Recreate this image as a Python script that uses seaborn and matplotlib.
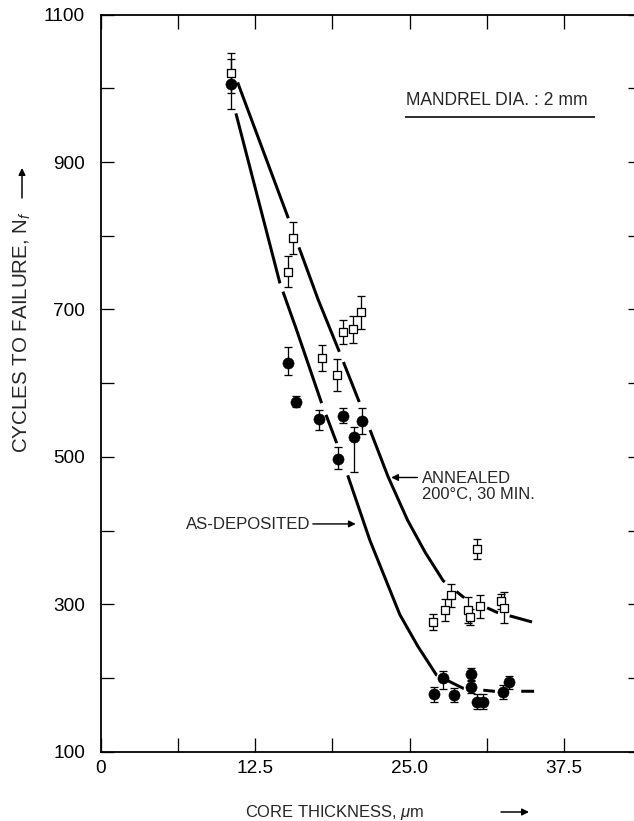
import numpy as np
import pandas as pd
import matplotlib
matplotlib.use("Agg")
import matplotlib.pyplot as plt
import seaborn as sns

# Annealed specimens (open squares): core thickness (um), cycles to failure, +/- error
ann_x = [10.50, 15.12, 15.57, 17.87, 19.13, 19.57, 20.43, 21.03,
         26.91, 27.85, 28.34, 29.74, 29.88, 30.50, 30.69, 32.39, 32.66]
ann_y = [1021, 751, 797, 634, 611, 669, 673, 696,
         276, 292, 312, 292, 283, 375, 297, 304, 295]
ann_err = [27, 21, 22, 18, 22, 16, 18, 22,
           11, 15, 16, 18, 11, 13, 16, 10, 21]

# As-deposited specimens (filled circles)
dep_x = [10.50, 15.12, 15.77, 17.65, 19.17, 19.57, 20.51, 21.11,
         26.99, 27.72, 28.61, 29.96, 29.96, 30.50, 30.96, 32.53, 33.04]
dep_y = [1006, 627, 575, 551, 497, 556, 527, 549,
         178, 200, 177, 205, 188, 168, 168, 181, 194]
dep_err_lo = [34, 16, 8, 14, 13, 10, 48, 18, 10, 15, 9, 8, 8, 10, 10, 9, 9]
dep_err_hi = [34, 22, 8, 13, 16, 10, 13, 17, 10, 10, 10, 8, 8, 10, 10, 9, 9]

# Fitted trend curves
ann_fit_x = [11.07, 15.17, 17.60, 19.30, 20.91, 23.26, 24.84, 26.28, 27.72, 29.34, 32.09, 34.92]
ann_fit_y = [1008, 824, 713, 643, 575, 473, 414, 370, 332, 310, 289, 276]
dep_fit_x = [10.93, 14.49, 15.85, 17.87, 19.09, 21.78, 24.21, 25.67, 27.18, 29.34, 31.85, 35.09]
dep_fit_y = [966, 736, 672, 573, 519, 387, 286, 243, 204, 186, 182, 182]

x_ticks = [0, 12.5, 25.0, 37.5]
x_ticklabels = ["0", "12.5", "25.0", "37.5"]
y_ticks = [100, 300, 500, 700, 900, 1100]

ann = pd.DataFrame({"t": ann_x, "n": ann_y})
dep = pd.DataFrame({"t": dep_x, "n": dep_y})
ann_fit = pd.DataFrame({"t": ann_fit_x, "n": ann_fit_y})
dep_fit = pd.DataFrame({"t": dep_fit_x, "n": dep_fit_y})

sns.set_style("ticks")
plt.rcParams["font.family"] = ["Liberation Sans", "DejaVu Sans"]
plt.rcParams["mathtext.fontset"] = "custom"
plt.rcParams["mathtext.rm"] = "Liberation Sans"
plt.rcParams["mathtext.it"] = "Liberation Sans:italic"
plt.rcParams["lines.scale_dashes"] = False

W, H = 634, 821
fig = plt.figure(figsize=(W / 72, H / 72), dpi=72)
ax = fig.add_axes([101 / W, (H - 751.7) / H, 540 / W, (751.7 - 14.6) / H])

# hand-drawn style broken curves (dash lengths in points)
ann_dash = (145, 31, 112, 11, 43, 30, 170, 15, 10, 25, 12, 12, 25, 60)
dep_dash = (175.6, 8.8, 118, 12.5, 30.3, 34, 220, 12, 17.9, 19.6, 11.6, 26.4, 13.6, 60)
sns.lineplot(data=ann_fit, x="t", y="n", ax=ax, color="black", lw=3,
             sort=False, estimator=None, linestyle=(0, ann_dash))
sns.lineplot(data=dep_fit, x="t", y="n", ax=ax, color="black", lw=3,
             sort=False, estimator=None, linestyle=(0, dep_dash))

ax.errorbar(dep_x, dep_y, yerr=[dep_err_lo, dep_err_hi], fmt="none",
            ecolor="black", elinewidth=1.3, capsize=4, capthick=1.3, zorder=2)
ax.errorbar(ann_x, ann_y, yerr=ann_err, fmt="none",
            ecolor="black", elinewidth=1.3, capsize=4, capthick=1.3, zorder=2)

sns.scatterplot(data=dep, x="t", y="n", ax=ax, marker="o", s=125,
                color="black", edgecolor="black", linewidth=0.5, zorder=3)
sns.scatterplot(data=ann, x="t", y="n", ax=ax, marker="s", s=56,
                color="white", edgecolor="black", linewidth=1.3, zorder=4)

ax.set_xlim(0, 43.75)
ax.set_ylim(100, 1100)
ax.set_xticks(x_ticks, labels=x_ticklabels)
ax.set_xticks(np.arange(6.25, 44, 12.5), minor=True)
ax.set_yticks(y_ticks, labels=[str(v) for v in y_ticks])
ax.set_yticks(np.arange(200, 1100, 200), minor=True)
ax.tick_params(which="both", direction="in", top=True, right=True,
               width=1.3, labelsize=19, colors="black")
ax.xaxis.set_tick_params(which="both", length=14, pad=8)
ax.yaxis.set_tick_params(which="both", length=13, pad=16)
for sp in ax.spines.values():
    sp.set_linewidth(1.8)
    sp.set_color("black")

ax.set_xlabel("CORE THICKNESS, $\\mu$m", fontsize=16.5)
ax.xaxis.set_label_coords((335 - 101) / 540, -(812 - 751.7) / 737.1)
ax.xaxis.label.set_va("center")
ax.set_ylabel("CYCLES TO FAILURE, N$_f$", fontsize=20.5)
ax.yaxis.set_label_coords((22 - 101) / 540, (751.7 - 332) / 737.1)
ax.yaxis.label.set_va("center")

# arrows after the axis titles
ax.annotate("", xy=((531 - 101) / 540, -(812 - 751.7) / 737.1),
            xytext=((499 - 101) / 540, -(812 - 751.7) / 737.1),
            xycoords="axes fraction", annotation_clip=False,
            arrowprops=dict(arrowstyle="-|>", lw=1.5, color="black", mutation_scale=14))
ax.annotate("", xy=((22 - 101) / 540, (751.7 - 166) / 737.1),
            xytext=((22 - 101) / 540, (751.7 - 200) / 737.1),
            xycoords="axes fraction", annotation_clip=False,
            arrowprops=dict(arrowstyle="-|>", lw=1.5, color="black", mutation_scale=14))

# test condition note
ax.text(24.75, 983, "MANDREL DIA. : 2 mm", fontsize=17.5, ha="left", va="center")
ax.plot([(405 - 101) / 540, (595 - 101) / 540], [(751.7 - 117.3) / 737.1] * 2,
        transform=ax.transAxes, color="black", lw=1.6, solid_capstyle="butt")

# curve annotations
ax.text(26.0, 470, "ANNEALED", fontsize=16.5, ha="left", va="center")
ax.text(26.0, 449, "200°C, 30 MIN.", fontsize=16.5, ha="left", va="center")
ax.annotate("", xy=(23.35, 472), xytext=(25.8, 472),
            arrowprops=dict(arrowstyle="-|>", lw=1.4, color="black", mutation_scale=14))
ax.text(6.9, 408, "AS-DEPOSITED", fontsize=16.8, ha="left", va="center")
ax.annotate("", xy=(20.8, 409), xytext=(17.0, 409),
            arrowprops=dict(arrowstyle="-|>", lw=1.4, color="black", mutation_scale=14))

fig.savefig("out.png", dpi=72)
